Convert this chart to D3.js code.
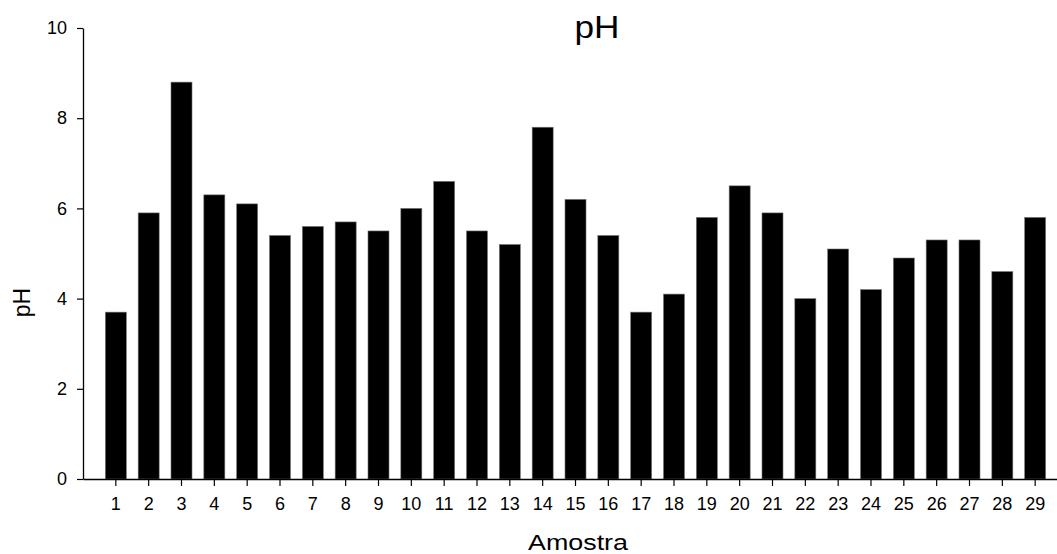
<!DOCTYPE html>
<html>
<head>
<meta charset="utf-8">
<title>pH</title>
<script src="https://d3js.org/d3.v7.min.js"></script>
<style>
  body { margin: 0; background: #fff; }
  text { font-family: Arial, "Liberation Sans", sans-serif; fill: #000; }
</style>
</head>
<body>
<svg id="chart" width="1057" height="554"></svg>
<script>
// sample numbers and measured pH
var amostras = d3.range(1, 30);
var phValues = [3.7, 5.9, 8.8, 6.3, 6.1, 5.4, 5.6, 5.7, 5.5, 6.0,
                6.6, 5.5, 5.2, 7.8, 6.2, 5.4, 3.7, 4.1, 5.8, 6.5,
                5.9, 4.0, 5.1, 4.2, 4.9, 5.3, 5.3, 4.6, 5.8];
var yTicks = [0, 2, 4, 6, 8, 10];

var svg = d3.select("#chart");

var plotLeft = 83, plotRight = 1068, plotTop = 28, plotBottom = 479;

var x = d3.scaleBand()
  .domain(amostras)
  .range([plotLeft, plotRight])
  .paddingInner(0.36)
  .paddingOuter(0.68);

var y = d3.scaleLinear().domain([0, 10]).range([plotBottom, plotTop]);

// bars
svg.selectAll("rect.bar")
  .data(phValues)
  .enter().append("rect")
  .attr("class", "bar")
  .attr("x", function (d, i) { return x(amostras[i]); })
  .attr("width", x.bandwidth())
  .attr("y", function (d) { return y(d); })
  .attr("height", function (d) { return plotBottom - y(d); })
  .attr("fill", "#000")
  .attr("stroke", "#777")
  .attr("stroke-width", 0.6);

// y axis
svg.append("g")
  .attr("transform", "translate(" + plotLeft + ",0)")
  .call(d3.axisLeft(y).tickValues(yTicks).tickSize(6).tickPadding(10).tickSizeOuter(0));

// x axis
svg.append("g")
  .attr("transform", "translate(0," + plotBottom + ")")
  .call(d3.axisBottom(x).tickSize(7).tickPadding(11).tickSizeOuter(0));

svg.selectAll(".domain").attr("stroke", "#000").attr("stroke-width", 1.3);
svg.selectAll(".tick line").attr("stroke", "#000").attr("stroke-width", 1.2);
svg.selectAll(".tick text")
  .attr("font-size", 18)
  .style("font-size", "18px")
  .attr("fill", "#000");

// title
svg.append("text")
  .attr("x", 597)
  .attr("y", 38)
  .attr("text-anchor", "middle")
  .attr("textLength", 45)
  .attr("lengthAdjust", "spacingAndGlyphs")
  .style("font-size", "32px")
  .text("pH");

// axis titles
svg.append("text")
  .attr("x", 578)
  .attr("y", 550)
  .attr("text-anchor", "middle")
  .attr("textLength", 100)
  .attr("lengthAdjust", "spacingAndGlyphs")
  .style("font-size", "22px")
  .text("Amostra");

svg.append("text")
  .attr("transform", "translate(29.5,302.5) rotate(-90)")
  .attr("text-anchor", "middle")
  .style("font-size", "23px")
  .text("pH");
</script>
</body>
</html>
